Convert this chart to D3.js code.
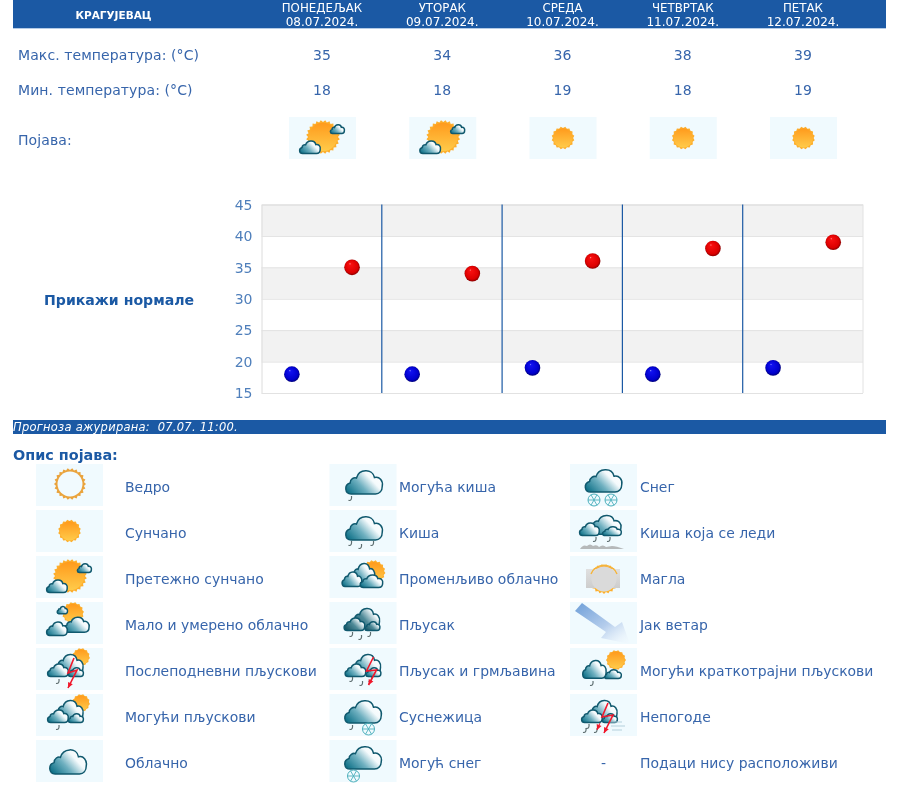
<!DOCTYPE html>
<html><head><meta charset="utf-8">
<style>
html,body{margin:0;padding:0;background:#fff;overflow:hidden}
svg{display:block;filter:blur(0.35px)}
text{font-family:"DejaVu Sans",sans-serif}
</style>
<script src="https://cdn.jsdelivr.net/npm/d3@7"></script>
</head><body><svg id="c" width="900" height="795"></svg>
<script>
const city = "КРАГУЈЕВАЦ";
const days = ["ПОНЕДЕЉАК","УТОРАК","СРЕДА","ЧЕТВРТАК","ПЕТАК"];
const dates = ["08.07.2024.","09.07.2024.","10.07.2024.","11.07.2024.","12.07.2024."];
const maxTemps = [35,34,36,38,39];
const minTemps = [18,18,19,18,19];
const dayIcons = ["mostlySunny","mostlySunny","sunny","sunny","sunny"];
const yTicks = [15,20,25,30,35,40,45];
const updatedText = "Прогноза ажурирана:  07.07. 11:00.";
const legendCol1 = [["clear","Ведро"],["sunny","Сунчано"],["mostlySunny","Претежно сунчано"],["partly","Мало и умерено облачно"],["pmStorm","Послеподневни пљускови"],["maybeShowers","Могући пљускови"],["cloudy","Облачно"]];
const legendCol2 = [["maybeRain","Могућа киша"],["rain","Киша"],["variable","Променљиво облачно"],["shower","Пљусак"],["thunder","Пљусак и грмљавина"],["sleet","Суснежица"],["maybeSnow","Могућ снег"]];
const legendCol3 = [["snow","Снег"],["freezing","Киша која се леди"],["fog","Магла"],["wind","Јак ветар"],["briefShowers","Могући краткотрајни пљускови"],["severe","Непогоде"],["none","Подаци нису расположиви"]];

const BLUE="#1b59a4", TXT="#3765ab", AX="#4f7fbb";
const svg=d3.select("#c");
const defs=svg.append("defs");

function lin(id,x1,y1,x2,y2,stops){const g=defs.append("linearGradient").attr("id",id).attr("x1",x1).attr("y1",y1).attr("x2",x2).attr("y2",y2);
 stops.forEach(s=>g.append("stop").attr("offset",s[0]).attr("stop-color",s[1]).attr("stop-opacity",s[2]===undefined?1:s[2]));}
lin("cl",0,.85,1,.25,[[0,"#0c6f86"],[.4,"#6fb0c0"],[.72,"#f4fafc"],[1,"#ffffff"]]);
lin("clD",0,.9,1,.3,[[0,"#0e4f5f"],[.5,"#4f8a98"],[.85,"#eef6f8"],[1,"#fff"]]);
lin("sunG",0,0,0,1,[[0,"#ff9a1c"],[1,"#ffcb4a"]]);
lin("windG",0,0,1,1,[[0,"#6f9fd8"],[.55,"#b5cdec"],[.85,"#e6f0fa",.6],[1,"#eef5fc",0]]);
lin("fogG",0,0,0,1,[[0,"#e0e0e0"],[1,"#cdcdcd"]]);
function ball(id,hi,c0,c1,c2){const g=defs.append("radialGradient").attr("id",id).attr("cx",.5).attr("cy",.5).attr("r",.55).attr("fx",.36).attr("fy",.26);
 g.append("stop").attr("offset",0).attr("stop-color",hi);g.append("stop").attr("offset",.12).attr("stop-color",c0);g.append("stop").attr("offset",.75).attr("stop-color",c1);g.append("stop").attr("offset",1).attr("stop-color",c2);}
ball("ballR","#ff9090","#f81010","#dc0000","#700000");
ball("ballB","#8a8aff","#1010f0","#0000cc","#000060");

/* ---- icon parts ---- */
const cloudD="M-13,12 C-19.5,12 -20.5,3 -14,1 C-14,-3 -10,-5 -7.5,-4 C-5,-13 9,-14 11,-4.5 C16,-6 20,-1 19,4 C19,9 16,12 12,12 Z";
function cloud(g,x0,x1,y0,y1,fill="url(#cl)"){
 const sx=(x1-x0)/40, sy=(y1-y0)/26;
 g.append("path").attr("d",cloudD).attr("transform",`translate(${(x0+x1)/2-.25},${(y0+y1)/2+1}) scale(${sx},${sy})`)
  .attr("fill",fill).attr("stroke","#10596e").attr("stroke-width",1.5).attr("vector-effect","non-scaling-stroke");
}
function sun(g,cx,cy,r,hollow){
 const n=Math.max(12,Math.round(r*1.4));
 const pts=d3.range(n*2).map(i=>[i*Math.PI/n,i%2?r:r*.88]);
 g.append("path").attr("d",d3.lineRadial().curve(d3.curveLinearClosed)(pts)).attr("transform",`translate(${cx},${cy})`)
  .attr("fill",hollow?"#eaa33c":"#fdae2c");
 g.append("circle").attr("cx",cx).attr("cy",cy).attr("r",r*(hollow?.78:.84)).attr("fill",hollow?"#f1fafe":"url(#sunG)");
}
function drop(g,x,y){g.append("path").attr("d",`M${x+1},${y-3} C${x+1.4},${y} ${x+.6},${y+2} ${x-2},${y+1.4}`).attr("fill","none").attr("stroke","#5e6e70").attr("stroke-width",1.2);}
function flake(g,x,y){const r=6;
 g.append("circle").attr("cx",x).attr("cy",y).attr("r",r).attr("fill","none").attr("stroke","#4db0bc").attr("stroke-width",1);
 [0,60,120].forEach(a=>{const c=Math.cos(a*Math.PI/180)*r,s=Math.sin(a*Math.PI/180)*r;
  g.append("line").attr("x1",x-c).attr("y1",y-s).attr("x2",x+c).attr("y2",y+s).attr("stroke","#4db0bc").attr("stroke-width",.9);});}
function bolt(g,p,s=1.6){
 g.append("path").attr("d",d3.line()(p)).attr("fill","none").attr("stroke","#f0182c").attr("stroke-width",s);
 const a=p[p.length-1],b=p[p.length-2],t=Math.atan2(a[1]-b[1],a[0]-b[0]),l=6,w=.45;
 g.append("path").attr("d",d3.line()([[a[0],a[1]],[a[0]-l*Math.cos(t-w),a[1]-l*Math.sin(t-w)],[a[0]-l*Math.cos(t+w),a[1]-l*Math.sin(t+w)]])+"Z").attr("fill","#f0182c");
}
function triCloud(g,fill,dx=0){
 cloud(g,18+dx,48+dx,4,26,fill); cloud(g,11+dx,33+dx,14,28,fill); cloud(g,32+dx,48+dx,18,28,fill);
}
const icons={
 clear:g=>sun(g,34,20,16,true),
 sunny:g=>sun(g,33.5,21,11.5),
 mostlySunny:g=>{sun(g,34,20,17);cloud(g,10,32,22,36);cloud(g,41,56,6,16);},
 partly:g=>{sun(g,37,11,11);cloud(g,21,32,3,11);cloud(g,27,54,13,30);cloud(g,10,32,18,33);},
 pmStorm:g=>{sun(g,45,9,9);triCloud(g);drop(g,22,34);bolt(g,[[38,10],[32,25],[41,22],[32,40]]);},
 maybeShowers:g=>{sun(g,45,9,9);triCloud(g);drop(g,22,34);},
 cloudy:g=>cloud(g,12.5,51.5,7,34),
 maybeRain:g=>{cloud(g,15,54,4,30);drop(g,21,35);},
 rain:g=>{cloud(g,15,54,4,30);[[21,34],[31,37],[43,34]].forEach(d=>drop(g,d[0],d[1]));},
 variable:g=>{sun(g,44,16,12);cloud(g,21,46,5,26);cloud(g,12,33,14,30);cloud(g,30,54,17,31);},
 shower:g=>{triCloud(g,"url(#clD)",3);[[22,33],[31,36],[40,33]].forEach(d=>drop(g,d[0],d[1]));},
 thunder:g=>{triCloud(g,"url(#cl)",4);[[22,32],[32,36],[41,32]].forEach(d=>drop(g,d[0],d[1]));bolt(g,[[44,9],[37,23],[47,22],[39,37]]);},
 sleet:g=>{cloud(g,14,53,4,29);drop(g,22,34);flake(g,39,35);},
 maybeSnow:g=>{cloud(g,14,53,4,29);flake(g,24,36);},
 snow:g=>{cloud(g,14,53,3,28);flake(g,24,36);flake(g,41,36);},
 freezing:g=>{
  cloud(g,18,52,3,24);cloud(g,9,30,11,25);cloud(g,32,52,15,25);
  drop(g,25,30);drop(g,39,30);
  g.append("path").attr("d","M10,39 q3,-5 7,-3 q3,-3 6,0 q4,-2 6,1 q4,-3 7,0 l6,-1 q4,0 12,3 Z").attr("fill","#9d9d9d").attr("opacity",.7);},
 fog:g=>{sun(g,34,23,15);g.append("rect").attr("x",16).attr("y",13).attr("width",34).attr("height",19).attr("fill","url(#fogG)");
  g.append("circle").attr("cx",34).attr("cy",23).attr("r",12.5).attr("fill","#dadada");
  g.append("path").attr("d","M21,18 A14,14 0 0 1 47,18").attr("fill","none").attr("stroke","#f4b43a").attr("stroke-width",1.4);},
 wind:g=>g.append("path").attr("d","M12,1 L5,9 L36,30 L31,36 L60,42 L52,20 L45,25 Z").attr("fill","url(#windG)"),
 briefShowers:g=>{sun(g,46,12,10);cloud(g,34,52,20,30);cloud(g,12,37,10,30);drop(g,22,36);},
 severe:g=>{triCloud(g);[[18,33],[26,37],[15,37]].forEach(d=>drop(g,d[0],d[1]));
  g.append("path").attr("d","M40,28 h12 M41,32 h14 M42,36 h10").attr("stroke","#b4d0dc").attr("stroke-width",1.2).attr("fill","none");
  bolt(g,[[38,9],[32,23],[43,21],[34,39]]);bolt(g,[[30,29],[27,36]],1);}
};
function icon(name,x,y){
 const g=svg.append("g").attr("transform",`translate(${x},${y})`);
 g.append("rect").attr("width",67).attr("height",42).attr("fill","#f0fafe");
 icons[name](g);
}

/* ---- header ---- */
const cols=d3.scalePoint().domain(days).range([322,803]);
svg.append("rect").attr("x",13).attr("y",0).attr("width",873).attr("height",28).attr("fill",BLUE);
svg.append("line").attr("x1",13).attr("x2",886).attr("y1",28.5).attr("y2",28.5).attr("stroke","#b4cbe6");
svg.append("text").attr("x",113.5).attr("y",19).attr("text-anchor","middle").attr("fill","#fff").attr("font-size",10.5).attr("font-weight","bold").text(city);
days.forEach((d,i)=>{const x=cols(d);
 svg.append("text").attr("x",x).attr("y",12).attr("text-anchor","middle").attr("fill","#fff").attr("font-size",11.8).text(d);
 svg.append("text").attr("x",x).attr("y",26).attr("text-anchor","middle").attr("fill","#fff").attr("font-size",12).text(dates[i]);
 svg.append("text").attr("x",x).attr("y",60).attr("text-anchor","middle").attr("fill",TXT).attr("font-size",14).text(maxTemps[i]);
 svg.append("text").attr("x",x).attr("y",95).attr("text-anchor","middle").attr("fill",TXT).attr("font-size",14).text(minTemps[i]);
 icon(dayIcons[i],x-33,117);
});
[["Макс. температура: (°C)",60],["Мин. температура: (°C)",95],["Појава:",145]].forEach(r=>
 svg.append("text").attr("x",18).attr("y",r[1]).attr("fill",TXT).attr("font-size",14).attr("letter-spacing",.09).text(r[0]));

/* ---- chart ---- */
const y=d3.scaleLinear().domain([15,45]).range([393,204.5]);
const x=d3.scaleLinear().domain([0,5]).range([261.5,863]);
const plot=svg.append("g");
d3.pairs(yTicks).forEach((p,i)=>{
  plot.append("rect").attr("x",x(0)).attr("width",x(5)-x(0)).attr("y",y(p[1])).attr("height",y(p[0])-y(p[1])).attr("fill",i%2===1?"#f2f2f2":"#fff");
});
const ax=svg.append("g").attr("transform",`translate(${x(0)},0)`).call(d3.axisLeft(y).tickValues(yTicks).tickSize(-(x(5)-x(0))).tickPadding(9));
ax.select(".domain").attr("stroke","#dcdcdc");
ax.selectAll(".tick line").attr("stroke","#e2e2e2");
ax.selectAll(".tick text").attr("fill",AX).attr("font-size",14).attr("font-family",'"DejaVu Sans"').attr("dy","0.34em");
svg.append("line").attr("x1",x(5)).attr("x2",x(5)).attr("y1",y(45)).attr("y2",y(15)).attr("stroke","#e2e2e2");
d3.range(1,5).forEach(i=>svg.append("line").attr("x1",x(i)).attr("x2",x(i)).attr("y1",y(45)).attr("y2",y(15)).attr("stroke",BLUE).attr("stroke-width",1.2));
svg.selectAll("circle.mx").data(maxTemps).join("circle").attr("class","mx").attr("cx",(d,i)=>x(i+.75)+.3).attr("cy",d=>y(d)).attr("r",7.8).attr("fill","url(#ballR)");
svg.selectAll("circle.mn").data(minTemps).join("circle").attr("class","mn").attr("cx",(d,i)=>x(i+.25)+.3).attr("cy",d=>y(d)).attr("r",7.8).attr("fill","url(#ballB)");
svg.append("text").attr("x",44).attr("y",305).attr("fill",BLUE).attr("font-size",14.1).attr("font-weight","bold").text("Прикажи нормале");

/* ---- footer ---- */
svg.append("rect").attr("x",13).attr("y",420).attr("width",873).attr("height",14).attr("fill",BLUE);
svg.append("text").attr("x",13).attr("y",431).attr("fill","#fff").attr("font-size",11.5).attr("font-style","italic").attr("letter-spacing",.25).style("white-space","pre").text(updatedText);
svg.append("text").attr("x",13).attr("y",460).attr("fill",BLUE).attr("font-size",14.4).attr("font-weight","bold").text("Опис појава:");
const rowY=d3.scaleLinear().domain([0,6]).range([464,740]);
[[legendCol1,36,125],[legendCol2,329.5,399],[legendCol3,570,640]].forEach(([list,ix,tx])=>{
 list.forEach((e,i)=>{
  if(e[0]==="none") svg.append("text").attr("x",ix+33.5).attr("y",rowY(i)+28).attr("text-anchor","middle").attr("fill",TXT).attr("font-size",14).text("-");
  else icon(e[0],ix,rowY(i));
  svg.append("text").attr("x",tx).attr("y",rowY(i)+28).attr("fill",TXT).attr("font-size",13.95).text(e[1]);
 });
});
</script></body></html>
